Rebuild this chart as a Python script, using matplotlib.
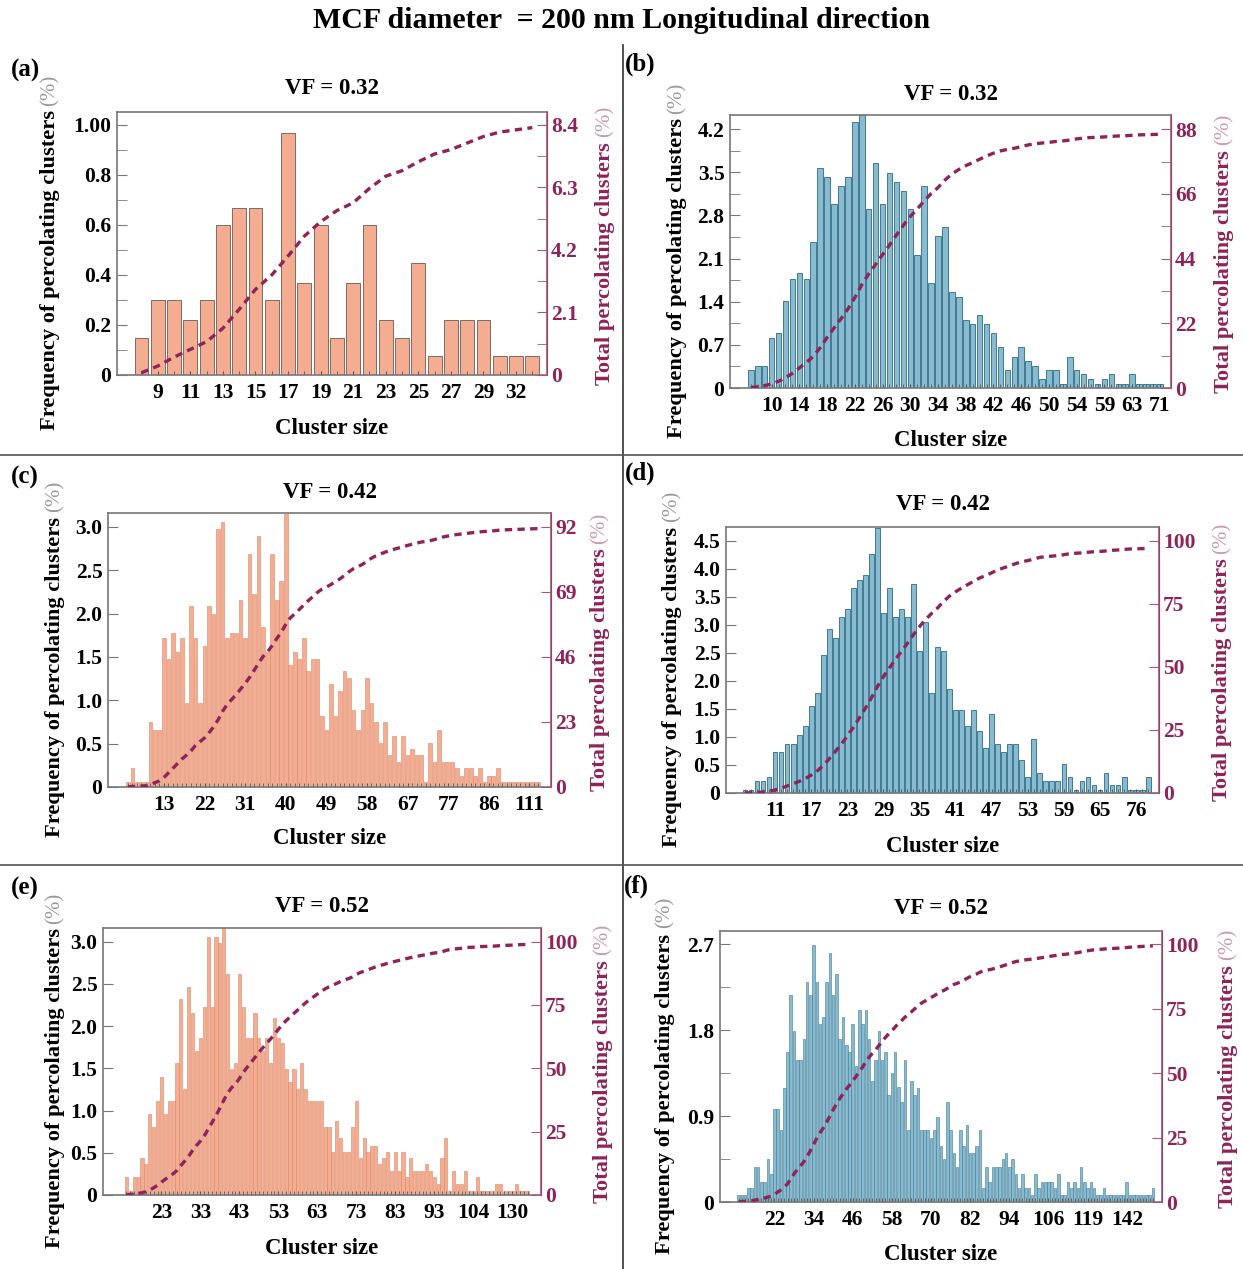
import numpy as np
import matplotlib.pyplot as plt
from matplotlib.lines import Line2D

plt.rcParams['font.family'] = ['Liberation Serif', 'DejaVu Serif']
plt.rcParams['font.weight'] = 'bold'

W, H = 1243, 1269

# ---- data (frequency of percolating clusters, %) ----
freq_a = [0.15, 0.30, 0.30, 0.22, 0.30, 0.60, 0.67, 0.67, 0.30, 0.97, 0.37, 0.60, 0.15,
          0.37, 0.60, 0.22, 0.15, 0.45, 0.075, 0.22, 0.22, 0.22, 0.075, 0.075, 0.075]
xt_a = ['9', '11', '13', '15', '17', '19', '21', '23', '25', '27', '29', '32']
yt_a = ['0', '0.2', '0.4', '0.6', '0.8', '1.00']
rt_a = ['0', '2.1', '4.2', '6.3', '8.4']

freq_b = [0.30, 0.36, 0.36, 0.81, 0.89, 1.41, 1.77, 1.86, 1.77, 2.37,
          3.57, 3.42, 2.98, 3.28, 3.42, 4.32, 4.43, 2.90, 3.65, 2.98,
          3.49, 3.35, 3.19, 2.90, 2.16, 3.28, 1.70, 2.46, 2.61, 1.56,
          1.48, 1.11, 1.04, 1.18, 1.04, 0.89, 0.66, 0.30, 0.51, 0.66,
          0.44, 0.36, 0.15, 0.30, 0.30, 0.07, 0.51, 0.30, 0.22, 0.15,
          0.07, 0.15, 0.22, 0.07, 0.07, 0.22, 0.07, 0.07, 0.07, 0.07]
xt_b = ['10', '14', '18', '22', '26', '30', '34', '38', '42', '46', '50', '54', '59', '63', '71']
yt_b = ['0', '0.7', '1.4', '2.1', '2.8', '3.5', '4.2']
rt_b = ['0', '22', '44', '66', '88']

freq_c = [0.06, 0.22, 0.06, 0.06, 0.06, 0.75, 0.66, 0.66, 1.72, 1.48, 1.78, 1.56, 1.72,
          0.97, 2.09, 1.72, 0.97, 1.63, 2.09, 2.00, 2.98, 3.06, 1.72, 1.78, 1.78, 2.16, 1.72,
          2.69, 2.23, 2.90, 1.85, 1.56, 2.69, 2.16, 2.38, 3.15, 1.41, 1.56, 1.48, 1.72, 1.34,
          1.48, 1.48, 0.82, 0.66, 1.19, 0.82, 1.11, 1.34, 1.26, 0.89, 0.66, 0.89, 1.26, 0.97,
          0.75, 0.51, 0.75, 0.37, 0.59, 0.29, 0.59, 0.37, 0.44, 0.37, 0.37, 0.06, 0.51, 0.29,
          0.66, 0.29, 0.29, 0.29, 0.22, 0.13, 0.22, 0.22, 0.13, 0.22, 0.06, 0.13, 0.13, 0.22,
          0.06, 0.06, 0.06, 0.06, 0.06, 0.06, 0.06, 0.06, 0.06]
xt_c = ['13', '22', '31', '40', '49', '58', '67', '77', '86', '111']
yt_c = ['0', '0.5', '1.0', '1.5', '2.0', '2.5', '3.0']
rt_c = ['0', '23', '46', '69', '92']

freq_d = [0.06, 0.06, 0.21, 0.21, 0.29, 0.74, 0.74, 0.88, 0.88, 1.04,
          1.19, 1.56, 1.78, 2.47, 2.92, 2.76, 3.14, 3.28, 3.66, 3.81,
          3.89, 4.26, 4.74, 3.21, 3.66, 3.14, 3.28, 3.14, 3.74, 2.53,
          3.06, 1.78, 2.61, 2.53, 1.86, 1.49, 1.49, 1.19, 1.49, 1.11,
          0.81, 1.41, 0.88, 0.74, 0.88, 0.88, 0.59, 0.29, 0.96, 0.36,
          0.21, 0.21, 0.21, 0.52, 0.29, 0.06, 0.21, 0.29, 0.14, 0.06,
          0.36, 0.14, 0.14, 0.29, 0.06, 0.06, 0.06, 0.29]
xt_d = ['11', '17', '23', '29', '35', '41', '47', '53', '59', '65', '76']
yt_d = ['0', '0.5', '1.0', '1.5', '2.0', '2.5', '3.0', '3.5', '4.0', '4.5']
rt_d = ['0', '25', '50', '75', '100']

freq_e = [0.21, 0.05, 0.21, 0.21, 0.44, 0.37, 0.96, 0.81, 1.11, 1.40,
          0.96, 1.11, 1.11, 1.56, 2.32, 1.26, 2.46, 2.15, 1.71, 1.86,
          2.23, 3.05, 2.23, 3.05, 2.98, 3.16, 2.61, 1.49, 1.56, 2.61,
          2.23, 1.86, 1.86, 2.15, 1.86, 1.71, 1.86, 1.56, 2.09, 1.86,
          1.80, 1.49, 1.34, 1.49, 1.26, 1.56, 1.26, 1.11, 1.11, 1.11,
          1.11, 0.81, 0.81, 0.51, 0.88, 0.67, 0.51, 0.51, 0.81, 1.11,
          0.44, 0.67, 0.51, 0.58, 0.58, 0.37, 0.44, 0.51, 0.28, 0.51,
          0.28, 0.51, 0.21, 0.44, 0.28, 0.28, 0.28, 0.37, 0.28, 0.21,
          0.13, 0.44, 0.67, 0.05, 0.28, 0.13, 0.13, 0.28, 0.05, 0.05,
          0.21, 0.05, 0.05, 0.05, 0.05, 0.13, 0.13, 0.05, 0.05, 0.05,
          0.13, 0.05, 0.05, 0.05]
xt_e = ['23', '33', '43', '53', '63', '73', '83', '93', '104', '130']
yt_e = ['0', '0.5', '1.0', '1.5', '2.0', '2.5', '3.0']
rt_e = ['0', '25', '50', '75', '100']

freq_f = [0.07, 0.07, 0.07, 0.15, 0.15, 0.37, 0.37, 0.21, 0.21, 0.45,
          0.29, 0.97, 0.97, 0.75, 1.19, 1.57, 2.17, 1.79, 1.49, 1.49,
          1.71, 2.31, 2.17, 2.69, 2.31, 1.87, 1.94, 2.31, 2.61, 2.17,
          2.39, 1.71, 1.94, 1.65, 1.57, 1.87, 1.43, 2.01, 1.87, 2.01,
          1.71, 1.27, 1.49, 1.79, 1.49, 1.57, 1.12, 1.35, 1.57, 1.21,
          1.05, 1.49, 0.75, 1.27, 1.12, 1.19, 0.75, 0.75, 0.75, 0.67,
          0.75, 0.89, 0.59, 0.45, 1.05, 0.75, 0.51, 0.37, 0.75, 0.59,
          0.81, 0.51, 0.51, 0.59, 0.75, 0.15, 0.37, 0.21, 0.37, 0.37,
          0.37, 0.45, 0.51, 0.37, 0.45, 0.29, 0.15, 0.29, 0.15, 0.15,
          0.07, 0.29, 0.15, 0.21, 0.21, 0.21, 0.21, 0.15, 0.29, 0.07,
          0.07, 0.21, 0.15, 0.21, 0.15, 0.37, 0.21, 0.15, 0.21, 0.15,
          0.07, 0.07, 0.15, 0.07, 0.07, 0.07, 0.07, 0.07, 0.07, 0.21,
          0.07, 0.07, 0.07, 0.07, 0.07, 0.07, 0.07, 0.15]
xt_f = ['22', '34', '46', '58', '70', '82', '94', '106', '119', '142']
yt_f = ['0', '0.9', '1.8', '2.7']
rt_f = ['0', '25', '50', '75', '100']

vf = ['0.32', '0.32', '0.42', '0.42', '0.52', '0.52']
tags = ['(a)', '(b)', '(c)', '(d)', '(e)', '(f)']

orange, orange_edge = '#f4ad90', '#d98668'
blue, blue_edge = '#88bbd0', '#3f7a93'
maroon = '#8e2459'

fig = plt.figure(figsize=(W / 100, H / 100), dpi=100)

# (data, xticks, yticks, rticks, first labelled bar, label step, colour, edge, ytop, minor ticks)
panels = [
    (freq_a, xt_a, yt_a, rt_a, 1, 2, orange, '#7d6a62', 1.052, True),
    (freq_b, xt_b, yt_b, rt_b, 3, 4, blue, blue_edge, 4.43, True),
    (freq_c, xt_c, yt_c, rt_c, 8, 9, orange, orange_edge, 3.16, False),
    (freq_d, xt_d, yt_d, rt_d, 5, 6, blue, blue_edge, 4.75, False),
    (freq_e, xt_e, yt_e, rt_e, 9, 10, orange, orange_edge, 3.16, False),
    (freq_f, xt_f, yt_f, rt_f, 11, 12, blue, blue_edge, 2.84, 'left'),
]
# box (l, t, r, b) px, x padding, tag xy, title y, xlabel y, ylabel x, right label x
layout = [
    ((117, 112, 547, 375), (1.5, 0.9), (25, 70), 88, 428, 50, 605),
    ((730, 115, 1171, 388), (3.0, 1.6), (640, 64), 95, 441, 677, 1224),
    ((108, 513, 551, 787), (4.4, 2.8), (25, 477), 492, 838, 55, 600),
    ((726, 527, 1159, 793), (3.15, 1.8), (640, 473), 505, 846, 672, 1222),
    ((103, 928, 541, 1195), (6.0, 3.4), (25, 888), 907, 1248, 55, 603),
    ((720, 931, 1162, 1202), (5.7, 2.8), (636, 886), 908, 1255, 665, 1228),
]

main_labels = []
for i, (p, lay) in enumerate(zip(panels, layout)):
    freq, xt, yt, rt, start, step, col, edge, ytop, minor = p
    (l, t, r, b), (padl, padr), tagxy, ty, xly, ylx, rlx = lay
    ax = fig.add_axes([l / W, 1 - b / H, (r - l) / W, (b - t) / H])
    n = len(freq)
    x = np.arange(n)
    wid = 0.85 if n < 30 else 0.8
    ax.bar(x, freq, width=wid, color=col, edgecolor=edge, linewidth=0.7 if n < 80 else 0.4)
    ax.set_xlim(-padl, n - 1 + padr)
    ax.set_ylim(0, ytop)

    lmax = float(yt[-1])
    ax.set_yticks(np.linspace(0, lmax, len(yt)))
    ax.set_yticklabels(yt)
    ax.set_xticks(start + step * np.arange(len(xt)))
    ax.set_xticklabels(xt)
    ax.set_xticks(x, minor=True)
    ax.tick_params(axis='x', which='both', direction='in', length=3, color='#555555',
                   labelsize=15.5, pad=6)
    ax.tick_params(axis='y', which='major', direction='in', length=7, color='#777777',
                   labelsize=15.5, pad=4)
    ax.tick_params(axis='y', which='minor', direction='in', length=7, color='#777777')
    if minor:
        dy = lmax / (len(yt) - 1) / 2
        ax.set_yticks(np.arange(dy, lmax, 2 * dy), minor=True)
    for s in ['left', 'top', 'bottom']:
        ax.spines[s].set_color('#777777')
        ax.spines[s].set_linewidth(1.2)

    # cumulative total of percolating clusters on twin axis
    rmax = float(rt[-1])
    ax2 = ax.twinx()
    cum = np.cumsum(freq) - np.array(freq) / 2
    ax2.plot(x, cum, color=maroon, lw=2.4, ls=(0, (2.2, 1.6)))
    ax2.set_ylim(0, ytop * rmax / lmax)
    ax2.set_yticks(np.linspace(0, rmax, len(rt)))
    ax2.set_yticklabels(rt)
    ax2.tick_params(axis='y', which='both', direction='in', length=7, color='#a8557f',
                    labelcolor=maroon, labelsize=15.5, pad=3)
    if minor is True:
        ax2.set_yticks(np.linspace(rmax / 8, rmax * 7 / 8, 4), minor=True)
    ax2.spines['right'].set_color('#a8557f')
    ax2.spines['right'].set_linewidth(1.2)
    for s in ['left', 'top', 'bottom']:
        ax2.spines[s].set_visible(False)

    cx = (l + r) / 2
    cy = (t + b) / 2
    fig.text(cx / W, 1 - ty / H, 'VF = ' + vf[i], ha='center', va='center', fontsize=16.5)
    fig.text(cx / W, 1 - xly / H, 'Cluster size', ha='center', va='center', fontsize=16.5)
    fig.text(tagxy[0] / W, 1 - tagxy[1] / H, tags[i], ha='center', va='center', fontsize=18)
    t1 = fig.text(ylx / W, 1 - (cy + 27) / H, 'Frequency of percolating clusters', rotation=90,
                  ha='center', va='center', fontsize=16.2)
    t2 = fig.text(rlx / W, 1 - (cy + 20) / H, 'Total percolating clusters', rotation=90,
                  ha='center', va='center', fontsize=16.2, color=maroon)
    main_labels.append((t1, '#9a9a9a'))
    main_labels.append((t2, '#c99ab2'))

fig.text(0.5, 1 - 20 / H, 'MCF diameter  = 200 nm Longitudinal direction', ha='center',
         va='center', fontsize=21.5)

# panel separators
fig.add_artist(Line2D([623 / W, 623 / W], [1 - 45 / H, 0], color='#333333', lw=1.2))
for yy in [455, 865]:
    fig.add_artist(Line2D([0, 1], [1 - yy / H, 1 - yy / H], color='#555555', lw=1.2))

# grey "(%)" appended above each rotated label
fig.canvas.draw()
rend = fig.canvas.get_renderer()
for txt, c in main_labels:
    bb = txt.get_window_extent(rend)
    fig.text((bb.x0 + bb.x1) / 2 / W, (bb.y1 + 5) / H, '(%)', rotation=90, ha='center',
             va='bottom', fontsize=15, fontweight='normal', color=c)

fig.savefig('out.png', dpi=100)
